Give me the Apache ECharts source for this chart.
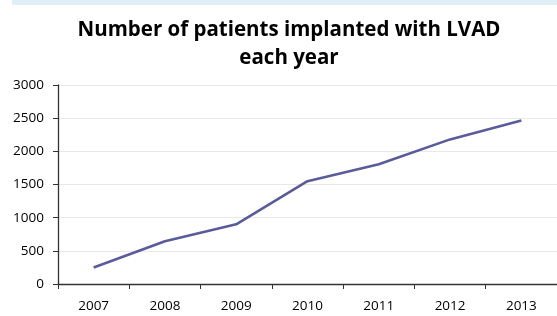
<!DOCTYPE html>
<html><head><meta charset="utf-8">
<script src="https://cdn.jsdelivr.net/npm/echarts@6/dist/echarts.min.js"></script>
<style>html,body{margin:0;padding:0;background:#fff}#c{width:557px;height:316px}</style>
</head><body><div id="c"></div>
<script>
const years = ['2007','2008','2009','2010','2011','2012','2013'];
const patients = [250, 645, 900, 1550, 1805, 2180, 2465];
const titleText = 'Number of patients implanted with LVAD\neach year';
const chart = echarts.init(document.getElementById('c'));
chart.setOption({
  animation: false,
  graphic: [{type:'rect', shape:{x:12,y:0,width:545,height:5}, style:{fill:'#e0eff5'}, silent:true}],
  title: {text: titleText, left: 284, top: 11, textAlign: 'center',
    textStyle: {fontFamily: 'Open Sans', fontWeight: 'bold', fontSize: 20.5, color: '#000', lineHeight: 28}},
  grid: {left: 58, top: 85, width: 504, height: 199, containLabel: false},
  xAxis: {type: 'category', data: years, boundaryGap: true,
    axisLine: {lineStyle: {color: '#333', width: 1.3}},
    axisTick: {show: true, length: 5, inside: false, lineStyle: {color: '#333'}},
    axisLabel: {fontFamily: 'Open Sans', fontSize: 13.5, color: '#000', margin: 15},
    splitLine: {show: false}},
  yAxis: {type: 'value', min: 0, max: 3000, interval: 500,
    axisLine: {show: true, lineStyle: {color: '#333', width: 1.3}},
    axisTick: {show: true, length: 5, lineStyle: {color: '#333'}},
    axisLabel: {fontFamily: 'Open Sans', fontSize: 13.5, color: '#000', margin: 14,
      formatter: v => String(v)},
    splitLine: {show: true, lineStyle: {color: '#e8e8e8', width: 1}}},
  series: [{type: 'line', data: patients, symbol: 'none',
    lineStyle: {color: '#5b5b9c', width: 2.6}}]
});
</script></body></html>
